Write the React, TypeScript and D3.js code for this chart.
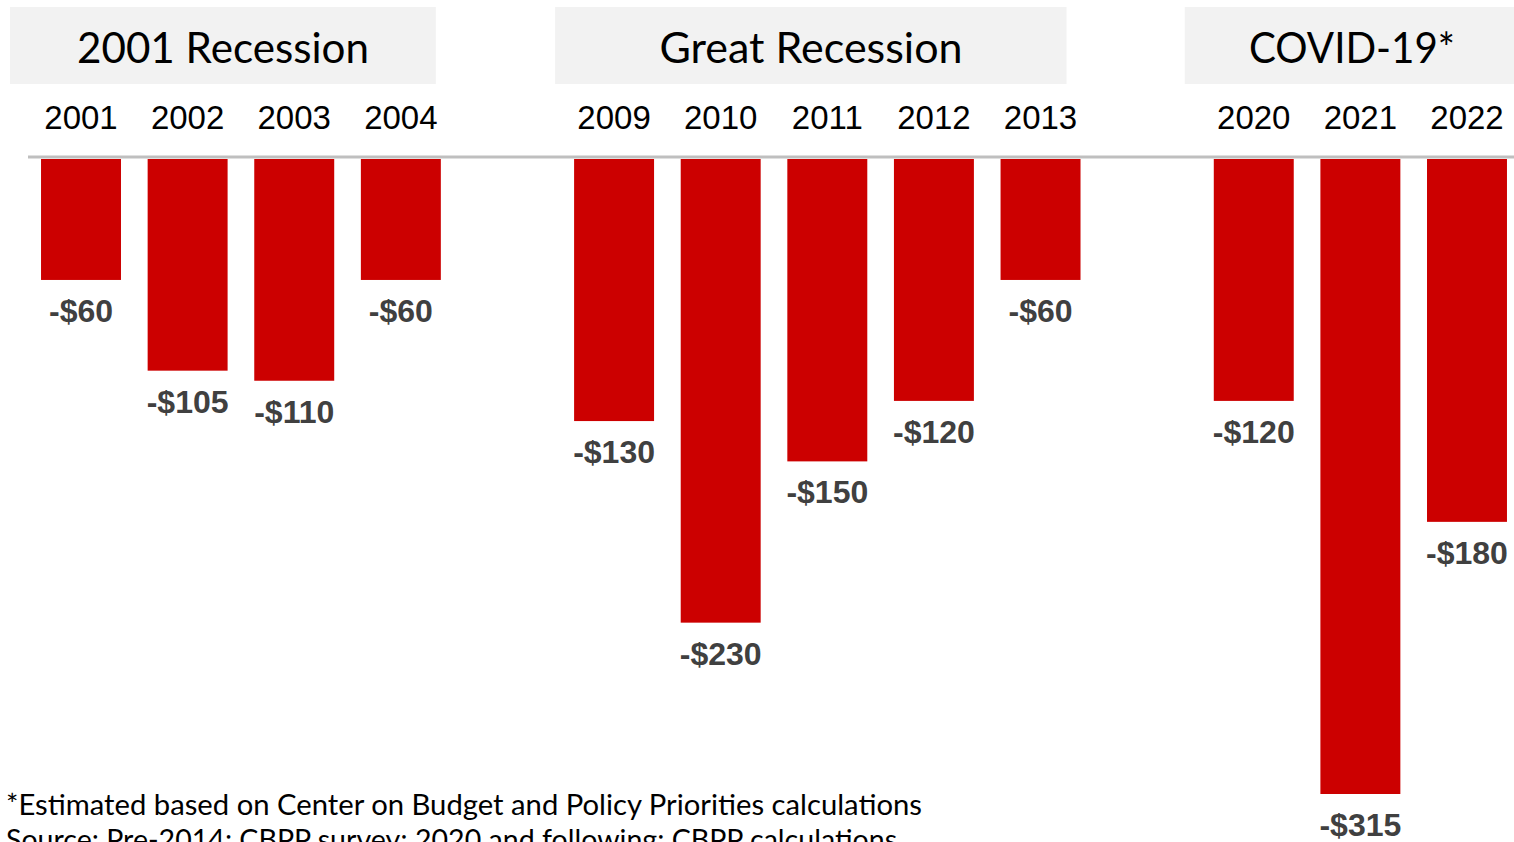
import React from "react";
import * as d3 from "d3";

const years = ["2001", "2002", "2003", "2004", "2009", "2010", "2011", "2012", "2013", "2020", "2021", "2022"];
const values = [-60, -105, -110, -60, -130, -230, -150, -120, -60, -120, -315, -180];
const labels = ["-$60", "-$105", "-$110", "-$60", "-$130", "-$230", "-$150", "-$120", "-$60", "-$120", "-$315", "-$180"];
const slots = ["2001", "2002", "2003", "2004", "gap1", "2009", "2010", "2011", "2012", "2013", "gap2", "2020", "2021", "2022"];
const groupNames = ["2001 Recession", "Great Recession", "COVID-19*"];
const groupFirst = ["2001", "2009", "2020"];
const groupLast = ["2004", "2013", "2022"];
const footnotes = [
  "*Estimated based on Center on Budget and Policy Priorities calculations",
  "Source: Pre-2014: CBPP survey; 2020 and following: CBPP calculations",
];

const W = 1514;
const H = 842;

export default function App() {
  const x = d3.scaleBand<string>().domain(slots).range([27.7, 1520.3]).paddingInner(0.25).paddingOuter(0.125);
  const y = d3.scaleLinear().domain([0, -315]).range([159, 794]);
  const bw = x.bandwidth();

  // header box offsets relative to group band extents
  const boxPad = [
    [31, 5],
    [19, 14],
    [29, -7],
  ];
  const titleWidths = [292, 303, 206];
  const titleCenters = [223, 811, 1352];

  return (
    <svg width={W} height={H} style={{ position: "absolute", left: 0, top: 0, background: "#fff" }}>
      {groupNames.map((g, i) => {
        const x0 = (x(groupFirst[i]) as number) - boxPad[i][0];
        const x1 = Math.min(W, (x(groupLast[i]) as number) + bw - boxPad[i][1]);
        return (
          <g key={g}>
            <rect x={x0} y={7} width={x1 - x0} height={77} fill="#f2f2f2" />
            <text
              x={titleCenters[i]}
              y={63}
              textAnchor="middle"
              fontFamily="Lato, 'Open Sans', sans-serif"
              fontSize={43}
              fill="#000"
              textLength={titleWidths[i]}
              lengthAdjust="spacingAndGlyphs"
            >
              {g}
            </text>
          </g>
        );
      })}
      {years.map((yr) => (
        <text
          key={"yl" + yr}
          x={(x(yr) as number) + bw / 2}
          y={129}
          textAnchor="middle"
          fontFamily="'Liberation Sans', Arial, sans-serif"
          fontSize={33}
          fill="#000"
        >
          {yr}
        </text>
      ))}
      <line x1={28} x2={W} y1={157} y2={157} stroke="#bfbfbf" strokeWidth={3} />
      {years.map((yr, i) => (
        <g key={"b" + yr}>
          <rect x={x(yr) as number} y={y(0)} width={bw} height={y(values[i]) - y(0)} fill="#cc0000" />
          <text
            x={(x(yr) as number) + bw / 2}
            y={y(values[i]) + 42}
            textAnchor="middle"
            fontFamily="'Liberation Sans', Arial, sans-serif"
            fontWeight="bold"
            fontSize={32}
            fill="#404040"
          >
            {labels[i]}
          </text>
        </g>
      ))}
      {footnotes.map((f, i) => (
        <text
          key={"f" + i}
          x={6}
          y={815 + i * 35}
          fontFamily="Lato, 'Open Sans', sans-serif"
          fontSize={28}
          fill="#000"
          textLength={i === 0 ? 916 : 891}
          lengthAdjust="spacingAndGlyphs"
        >
          {f}
        </text>
      ))}
    </svg>
  );
}
